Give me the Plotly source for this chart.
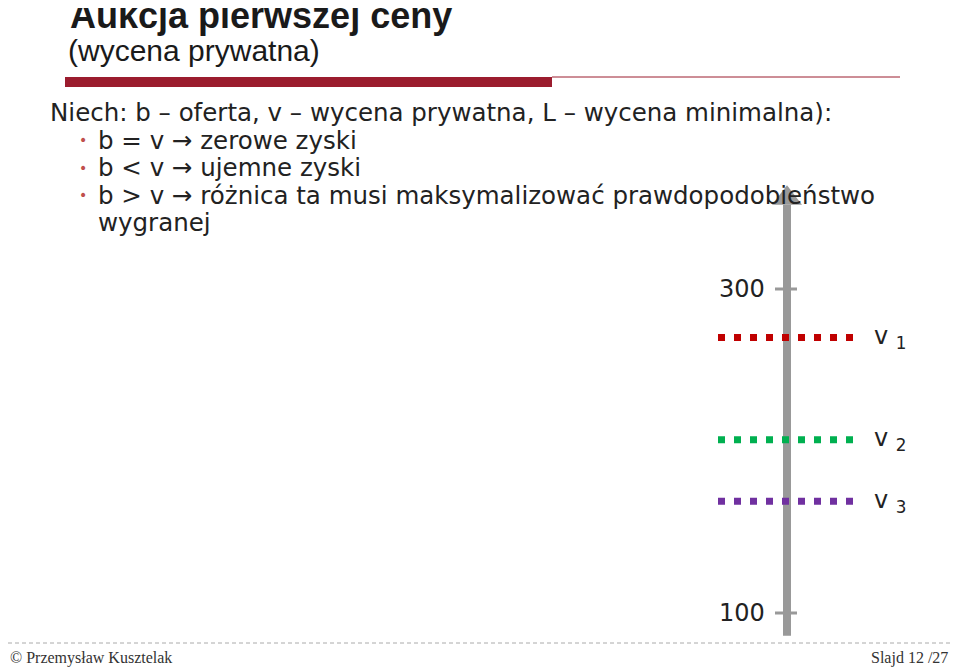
import plotly.graph_objects as go

# values on the price scale
tick_vals = [100, 300]
tick_text = ["100", "300"]
val_names = ["v", "v", "v"]
val_subs = ["1", "2", "3"]
val_levels = [270, 207, 169]
val_colors = ["#c00000", "#00b050", "#7030a0"]
axis_low, axis_high = 86, 352

OFF = 8  # page body margin in the html

# pixel mapping helpers: 1.62 px per unit, 100 at 613px
def ypix(p):
    return 100 + (613 - p) / 1.62

fig = go.Figure()

# vertical axis arrow
fig.add_trace(go.Scatter(x=[787, 787], y=[axis_low, axis_high], mode="lines",
                         line=dict(color="#999999", width=8), hoverinfo="skip"))
fig.add_trace(go.Scatter(x=[787], y=[axis_high + 4], mode="markers",
                         marker=dict(symbol="triangle-up", size=26, color="#999999"), hoverinfo="skip"))

for v, t in zip(tick_vals, tick_text):
    fig.add_trace(go.Scatter(x=[775, 797], y=[v, v], mode="lines",
                             line=dict(color="#999999", width=3), hoverinfo="skip"))
    fig.add_annotation(x=767, y=v, text=t, showarrow=False, xanchor="right",
                       font=dict(family="DejaVu Sans", size=24, color="#222"))

for n, s, lv, c in zip(val_names, val_subs, val_levels, val_colors):
    fig.add_trace(go.Scatter(x=[718, 856], y=[lv, lv], mode="lines",
                             line=dict(color=c, width=7, dash="7px,9px"), hoverinfo="skip"))
    fig.add_annotation(x=872, y=lv, text=f"{n} <sub>{s}</sub>", showarrow=False, xanchor="left",
                       font=dict(family="DejaVu Sans", size=24, color="#222"))

def px(x):
    return (x - OFF) / 960

def py(y):
    return 1 - (y - OFF) / 668

shapes = [
    dict(type="line", xref="paper", yref="paper", x0=px(65), x1=px(552), y0=py(82), y1=py(82),
         line=dict(color="#9b1c2e", width=10)),
    dict(type="line", xref="paper", yref="paper", x0=px(552), x1=px(900), y0=py(77), y1=py(77),
         line=dict(color="#9b1c2e", width=1)),
    dict(type="line", xref="paper", yref="paper", x0=0, x1=1, y0=py(643), y1=py(643),
         line=dict(color="#aaaaaa", width=1, dash="4px,3px")),
]

def txt(x, y, s, size=24.5, family="DejaVu Sans", color="#222", bold=False, anchor="left"):
    if bold:
        s = f"<b>{s}</b>"
    fig.add_annotation(xref="paper", yref="paper", x=px(x), y=py(y), text=s, showarrow=False,
                       xanchor=anchor, yanchor="middle", font=dict(family=family, size=size, color=color))

txt(68, 16, "Aukcja pierwszej ceny", size=36, family="Liberation Sans", color="#1a1a1a", bold=True)
txt(66, 50, "(wycena prywatna)", size=30, family="Liberation Sans", color="#1a1a1a")
txt(48, 112, "Niech: b – oferta, v – wycena prywatna, L – wycena minimalna):")
bullets = ["b = v → zerowe zyski", "b < v → ujemne zyski",
           "b > v → różnica ta musi maksymalizować prawdopodobieństwo"]
for i, b in enumerate(bullets):
    y = 140 + 27.5 * i
    txt(77, y, "•", size=14, color="#c0504d")
    txt(96, y, b)
txt(96, 222, "wygranej")
txt(8, 658, "© Przemysław Kusztelak", size=16, family="Liberation Serif", color="#333")
txt(950, 658, "Slajd 12 /27", size=16, family="Liberation Serif", color="#333", anchor="right")

fig.update_layout(width=960, height=668, margin=dict(l=0, r=0, t=0, b=0),
                  paper_bgcolor="white", plot_bgcolor="white", showlegend=False, shapes=shapes,
                  xaxis=dict(range=[OFF, 960 + OFF], visible=False, fixedrange=True),
                  yaxis=dict(range=[ypix(668 + OFF), ypix(OFF)], visible=False, fixedrange=True))

fig.write_html("out.html")
